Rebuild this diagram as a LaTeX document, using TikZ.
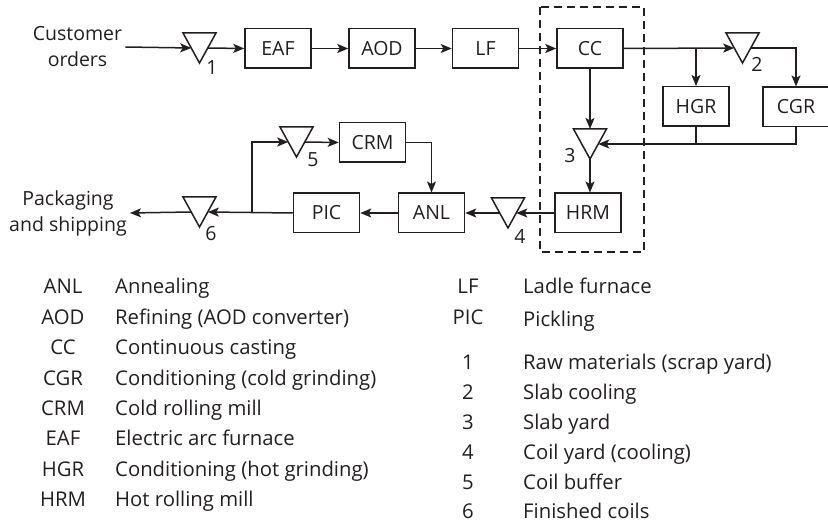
\documentclass[tikz,border=0pt]{standalone}
\usepackage{fontspec}
\setmainfont{Open Sans}
\usetikzlibrary{arrows.meta,calc}
\definecolor{ink}{RGB}{35,31,32}
\newcommand{\bufftri}[2]{%
  \coordinate (#1) at (#2);
  \draw[ink,line width=1.5pt,line join=miter] ($(#1)+(-16.5,-15)$) -- ++(33,0) -- ++(-16.5,30) -- cycle;
  \coordinate (#1-l) at ($(#1)+(-8.25,0)$);
  \coordinate (#1-r) at ($(#1)+(8.25,0)$);
  \coordinate (#1-t) at ($(#1)+(0,-15)$);
  \coordinate (#1-b) at ($(#1)+(0,15)$);
}
\tikzset{
  txt/.style={font=\fontsize{19.5}{24}\selectfont},
  box/.style={draw=ink,line width=1.5pt,rectangle,minimum width=66pt,minimum height=39.5pt,inner sep=0pt,text=ink,txt},
  lbl/.style={text=ink,inner sep=0pt,txt},
  leg/.style={text=ink,inner sep=0pt,font=\fontsize{20.3}{24}\selectfont},
  conn/.style={draw=ink,line width=1.5pt},
  arr/.style={conn,-{Stealth[length=11pt,width=9pt,inset=2.5pt]}},
}
\begin{document}
\begin{tikzpicture}[x=1pt,y=-1pt]
\useasboundingbox (0,0) rectangle (828,526);
% dashed frame
\draw[ink,line width=1.5pt,dash pattern=on 8pt off 5pt] (540,7) rectangle (644,252);
% boxes
\node[box] (EAF) at (278,48.5) {EAF};
\node[box] (AOD) at (382,48.5) {AOD};
\node[box] (LF) at (485.5,48.5) {LF};
\node[box] (CC) at (590,48.5) {CC};
\node[box] (HGR) at (696,106.5) {HGR};
\node[box] (CGR) at (796,107) {CGR};
\node[box] (HRM) at (588,213) {HRM};
\node[box] (ANL) at (431.5,213) {ANL};
\node[box] (PIC) at (326.5,213) {PIC};
\node[box] (CRM) at (372.5,142.5) {CRM};
% buffers
\bufftri{t1}{199.5,48}
\bufftri{t2}{742.5,48}
\bufftri{t3}{590,144}
\bufftri{t4}{508,213}
\bufftri{t5}{296.5,142}
\bufftri{t6}{199.5,212}
\node[lbl] (n1) at (212,68) {1};
\node[lbl] (n2) at (757,64) {2};
\node[lbl] (n3) at (570,156) {3};
\node[lbl] (n4) at (520,237) {4};
\node[lbl] (n5) at (313,160) {5};
\node[lbl] (n6) at (211,234) {6};
% end texts
\node[lbl,align=center,font=\fontsize{19.5}{26}\selectfont,inner sep=3pt] (co) at (77.5,47) {Customer\\orders};
\node[lbl,align=center,font=\fontsize{19.5}{26}\selectfont,inner sep=3pt] (ps) at (68,213) {Packaging\\and shipping};
% connectors
\draw[arr] (co.east) -- (t1-l);
\draw[arr] (t1-r) -- (EAF.west);
\draw[arr] (EAF.east) -- (AOD.west);
\draw[arr] (AOD.east) -- (LF.west);
\draw[arr] (LF.east) -- (CC.west);
\coordinate (j1) at (696,48);
\draw[arr] (CC.east) -- (t2-l);
\draw[arr] (j1) -- (HGR.north);
\draw[arr] (t2-r) -| (CGR.north);
\draw[arr] (CGR.south) |- (t3-r);
\draw[conn] (HGR.south) -- (HGR.south |- t3-r);
\draw[arr] (CC.south) -- (t3-t);
\draw[arr] (t3-b) -- (t3-b |- HRM.north);
\draw[arr] (HRM.west) -- (t4-r);
\draw[arr] (t4-l) -- (ANL.east);
\draw[arr] (CRM.east) -| (ANL.north);
\draw[arr] (ANL.west) -- (PIC.east);
\draw[arr] (PIC.west) -- (t6-r);
\coordinate (j2) at (252,213);
\draw[arr] (j2) |- (t5-l);
\draw[arr] (t5-r) -- (CRM.west);
\draw[arr] (t6-l) -- (ps.east);
% legend left
\foreach \ab/\de [count=\i from 0] in {ANL/Annealing, AOD/Refining (AOD converter), CC/Continuous casting, CGR/Conditioning (cold grinding), CRM/Cold rolling mill, EAF/Electric arc furnace, HGR/Conditioning (hot grinding), HRM/Hot rolling mill}{
  \node[leg,anchor=base] (la\i) at (63,{294+30.4*\i}) {\ab};
  \node[leg,anchor=base west] (ld\i) at (115,{294+30.4*\i}) {\de};
}
% legend right
\node[leg,anchor=base] (ra0) at (468,294) {LF};
\node[leg,anchor=base west] (rd0) at (523,294) {Ladle furnace};
\node[leg,anchor=base] (ra1) at (468,325) {PIC};
\node[leg,anchor=base west] (rd1) at (523,327) {Pickling};
\foreach \ab/\de [count=\i from 0] in {1/Raw materials (scrap yard), 2/Slab cooling, 3/Slab yard, 4/Coil yard (cooling), 5/Coil buffer, 6/Finished coils}{
  \node[leg,anchor=base] (rn\i) at (468,{370+29.8*\i}) {\ab};
  \node[leg,anchor=base west] (rt\i) at (523,{370+29.8*\i}) {\de};
}
\end{tikzpicture}
\end{document}
